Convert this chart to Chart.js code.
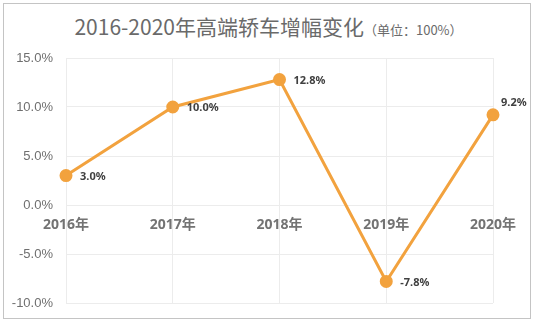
<!DOCTYPE html>
<html>
<head>
<meta charset="utf-8">
<script src="https://cdn.jsdelivr.net/npm/chart.js@4.4.1/dist/chart.umd.min.js"></script>
<style>
  html, body { margin: 0; padding: 0; background: #fff; }
  #wrap { position: relative; width: 537px; height: 325px; }
  #frame { position: absolute; left: 3px; top: 3px; width: 528px; height: 316px; border: 1px solid #c4c4c4; box-sizing: border-box; }
  #title { position: absolute; left: 0; top: 12px; width: 537px; text-align: center; color: #6a6a6a;
    font-family: "Noto Sans CJK SC", sans-serif; font-size: 21px; line-height: 28px; white-space: nowrap; }
  #title span { font-size: 13px; }
  canvas { position: absolute; left: 0; top: 0; }
</style>
</head>
<body>
<div id="wrap">
  <div id="frame"></div>
  <div id="title">2016-2020年高端轿车增幅变化<span>（单位：100%）</span></div>
  <canvas id="chart" width="537" height="325"></canvas>
</div>
<script>
const years = ['2016年', '2017年', '2018年', '2019年', '2020年'];
const growth = [3.0, 10.0, 12.8, -7.8, 9.2];
const yTicks = [-10, -5, 0, 5, 10, 15];

const lineColor = '#f2a23e';
const gridColor = '#ececec';

// value labels next to each point, last one sits above-right
const valueLabels = {
  id: 'valueLabels',
  afterDatasetsDraw(chart) {
    const ctx = chart.ctx;
    const meta = chart.getDatasetMeta(0);
    ctx.save();
    ctx.font = 'bold 11px "Noto Sans", "Noto Sans CJK SC", sans-serif';
    ctx.fillStyle = '#404040';
    ctx.textAlign = 'left';
    ctx.textBaseline = 'middle';
    meta.data.forEach((pt, i) => {
      const text = growth[i].toFixed(1) + '%';
      if (i === meta.data.length - 1) {
        ctx.fillText(text, pt.x + 8, pt.y - 12);
      } else {
        ctx.fillText(text, pt.x + 14, pt.y + 1);
      }
    });
    ctx.restore();
  }
};

new Chart(document.getElementById('chart'), {
  type: 'line',
  data: {
    labels: years,
    datasets: [{
      data: growth,
      borderColor: lineColor,
      backgroundColor: lineColor,
      borderWidth: 3,
      pointRadius: 5,
      pointHoverRadius: 5,
      tension: 0
    }]
  },
  options: {
    responsive: false,
    animation: false,
    layout: { padding: { left: 0, right: 44, top: 58, bottom: 22 } },
    plugins: { legend: { display: false }, tooltip: { enabled: false } },
    scales: {
      x: {
        position: { y: 0 },
        offset: false,
        grid: { color: gridColor, drawTicks: false },
        border: { color: gridColor },
        ticks: {
          padding: 12,
          color: '#737373',
          font: { family: '"Noto Sans", "Noto Sans CJK SC", sans-serif', size: 14, weight: 'bold' }
        }
      },
      y: {
        min: yTicks[0],
        max: yTicks[yTicks.length - 1],
        afterBuildTicks: s => { s.ticks = yTicks.map(v => ({ value: v })); },
        afterFit: s => { s.width = 66; },
        grid: { color: gridColor, drawTicks: false },
        border: { display: false },
        ticks: {
          padding: 13,
          color: '#6f6f6f',
          font: { family: '"Liberation Sans", "Noto Sans CJK SC", sans-serif', size: 13 },
          callback: v => v.toFixed(1) + '%'
        }
      }
    }
  },
  plugins: [valueLabels]
});
</script>
</body>
</html>
